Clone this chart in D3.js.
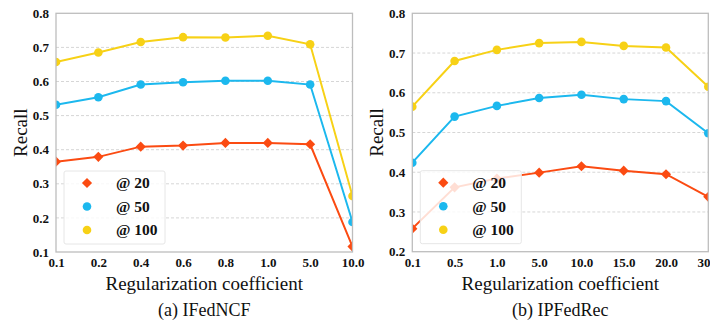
<!DOCTYPE html>
<html>
<head>
<meta charset="utf-8">
<script src="https://cdn.jsdelivr.net/npm/d3@7"></script>
<style>
  body { margin: 0; background: #fff; }
  svg { display: block; }
  text { font-family: "Liberation Serif", "Times New Roman", serif; }
</style>
</head>
<body>
<div id="chart"></div>
<script>
const width = 710;
const height = 324;

// panel (a) IFedNCF
const catsA = ["0.1", "0.2", "0.4", "0.6", "0.8", "1.0", "5.0", "10.0"];
const a20  = [0.365, 0.379, 0.409, 0.412, 0.420, 0.420, 0.416, 0.116];
const a50  = [0.532, 0.554, 0.591, 0.598, 0.602, 0.602, 0.591, 0.188];
const a100 = [0.657, 0.685, 0.716, 0.730, 0.729, 0.734, 0.709, 0.264];
const ticksA = [0.1, 0.2, 0.3, 0.4, 0.5, 0.6, 0.7, 0.8];

// panel (b) IPFedRec
const catsB = ["0.1", "0.5", "1.0", "5.0", "10.0", "15.0", "20.0", "30.0"];
const b20  = [0.258, 0.362, 0.384, 0.399, 0.415, 0.404, 0.395, 0.338];
const b50  = [0.424, 0.540, 0.567, 0.587, 0.595, 0.584, 0.579, 0.498];
const b100 = [0.565, 0.680, 0.708, 0.725, 0.728, 0.718, 0.714, 0.615];
const ticksB = [0.2, 0.3, 0.4, 0.5, 0.6, 0.7, 0.8];

const seriesNames = ["@ 20", "@ 50", "@ 100"];
const colors = ["#fb4b12", "#1cb8ee", "#f7d116"];
const serif = '"Liberation Serif", "Times New Roman", serif';

const svg = d3.select("#chart").append("svg")
  .attr("width", width)
  .attr("height", height);

// diamond = square turned 45 degrees
function diamond(sel, cx, cy, color) {
  sel.append("rect")
    .attr("x", -3.6).attr("y", -3.6)
    .attr("width", 7.2).attr("height", 7.2)
    .attr("transform", `translate(${cx},${cy}) rotate(45)`)
    .attr("fill", color);
}

function panel(opts) {
  const { left, right, top, bottom, cats, series, ticks, yMin, caption, id } = opts;

  const x = d3.scalePoint().domain(cats).range([left, right]).padding(0);
  const y = d3.scaleLinear().domain([yMin, 0.8]).range([bottom, top]);

  const g = svg.append("g");

  // grid lines (dashed)
  g.selectAll("line.grid")
    .data(ticks.filter(t => t > yMin && t < 0.8))
    .enter().append("line")
    .attr("x1", left).attr("x2", right)
    .attr("y1", d => y(d)).attr("y2", d => y(d))
    .attr("stroke", "#d6d6d6")
    .attr("stroke-width", 1)
    .attr("stroke-dasharray", "3,2");

  // clip to plot area
  g.append("clipPath").attr("id", id)
    .append("rect")
    .attr("x", left).attr("y", top)
    .attr("width", right - left).attr("height", bottom - top);

  const plot = g.append("g").attr("clip-path", `url(#${id})`);

  const line = d3.line()
    .x((d, i) => x(cats[i]))
    .y(d => y(d));

  series.forEach((vals, s) => {
    plot.append("path")
      .datum(vals)
      .attr("fill", "none")
      .attr("stroke", colors[s])
      .attr("stroke-width", 2)
      .attr("d", line);

    vals.forEach((v, i) => {
      if (s === 0) {
        diamond(plot, x(cats[i]), y(v), colors[s]);
      } else {
        plot.append("circle")
          .attr("cx", x(cats[i]))
          .attr("cy", y(v))
          .attr("r", 4.3)
          .attr("fill", colors[s]);
      }
    });
  });

  // frame
  g.append("rect")
    .attr("x", left).attr("y", top)
    .attr("width", right - left).attr("height", bottom - top)
    .attr("fill", "none")
    .attr("stroke", "#bdbdbd")
    .attr("stroke-width", 1.3);

  // y axis labels
  const yAxis = d3.axisLeft(y).tickValues(ticks).tickFormat(d3.format(".1f")).tickSize(0).tickPadding(7);
  g.append("g")
    .attr("transform", `translate(${left},0)`)
    .call(yAxis)
    .call(a => a.select(".domain").remove())
    .selectAll("text")
    .attr("font-family", serif)
    .attr("font-weight", "bold")
    .attr("font-size", 13)
    .attr("fill", "#111");

  // x axis labels
  const xAxis = d3.axisBottom(x).tickSize(0).tickPadding(6);
  g.append("g")
    .attr("transform", `translate(0,${bottom})`)
    .call(xAxis)
    .call(a => a.select(".domain").remove())
    .selectAll("text")
    .attr("font-family", serif)
    .attr("font-weight", "bold")
    .attr("font-size", 13)
    .attr("fill", "#111");

  // axis titles
  g.append("text")
    .attr("transform", `translate(${left - 29},${(top + bottom) / 2}) rotate(-90)`)
    .attr("text-anchor", "middle")
    .attr("font-family", serif)
    .attr("font-size", 19)
    .attr("fill", "#111")
    .text("Recall");

  g.append("text")
    .attr("x", (left + right) / 2)
    .attr("y", bottom + 38)
    .attr("text-anchor", "middle")
    .attr("font-family", serif)
    .attr("font-size", 19)
    .attr("fill", "#111")
    .text("Regularization coefficient");

  g.append("text")
    .attr("x", (left + right) / 2)
    .attr("y", bottom + 64)
    .attr("text-anchor", "middle")
    .attr("font-family", serif)
    .attr("font-size", 18)
    .attr("fill", "#111")
    .text(caption);

  // legend
  const lg = g.append("g").attr("transform", `translate(${left + 8},${bottom - 81})`);
  lg.append("rect")
    .attr("width", 101).attr("height", 73)
    .attr("rx", 2)
    .attr("fill", "#fff")
    .attr("fill-opacity", 0.82)
    .attr("stroke", "#e6e6e6");

  seriesNames.forEach((name, s) => {
    const cy = 12 + s * 23.5;
    if (s === 0) {
      diamond(lg, 23, cy, colors[s]);
    } else {
      lg.append("circle")
        .attr("cx", 23).attr("cy", cy).attr("r", 4.3)
        .attr("fill", colors[s]);
    }
    lg.append("text")
      .attr("x", 52).attr("y", cy)
      .attr("dy", "0.35em")
      .attr("font-family", serif)
      .attr("font-weight", "bold")
      .attr("font-size", 15.5)
      .attr("fill", "#111")
      .text(name);
  });
}

panel({
  left: 56, right: 352.5, top: 13.3, bottom: 252,
  cats: catsA, series: [a20, a50, a100], ticks: ticksA, yMin: 0.1,
  caption: "(a) IFedNCF", id: "clipA"
});

panel({
  left: 412.3, right: 708.3, top: 13.3, bottom: 251.7,
  cats: catsB, series: [b20, b50, b100], ticks: ticksB, yMin: 0.2,
  caption: "(b) IPFedRec", id: "clipB"
});
</script>
</body>
</html>
